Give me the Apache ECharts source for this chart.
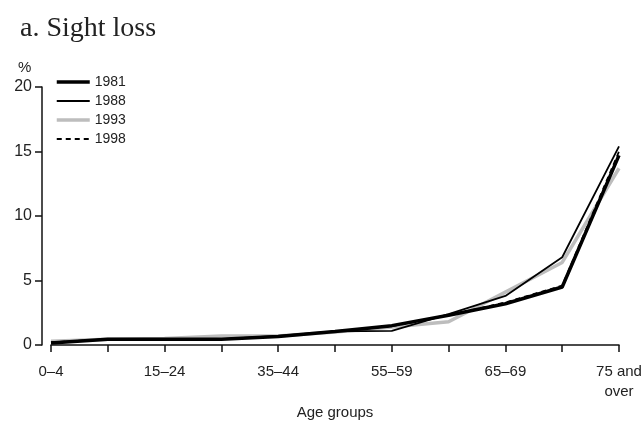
<!DOCTYPE html>
<html><head><meta charset="utf-8">
<script src="https://cdn.jsdelivr.net/npm/echarts@6/dist/echarts.min.js"></script>
<style>html,body{margin:0;padding:0;background:#fff}#c{width:644px;height:421px}</style>
</head><body><div id="c"></div>
<script>
const categories = ['0\u20134','5\u201314','15\u201324','25\u201334','35\u201344','45\u201354','55\u201359','60\u201364','65\u201369','70\u201374','75 and\nover'];
const s1981 = [0.15, 0.45, 0.45, 0.45, 0.65, 1.05, 1.5, 2.3, 3.2, 4.5, 14.7];
const s1988 = [0.2, 0.45, 0.45, 0.45, 0.7, 1.05, 1.1, 2.4, 3.8, 6.8, 15.4];
const s1993 = [0.3, 0.45, 0.5, 0.7, 0.7, 1.0, 1.4, 1.8, 4.1, 6.4, 13.7];
const s1998 = [0.2, 0.45, 0.45, 0.45, 0.65, 1.05, 1.45, 2.3, 3.3, 4.6, 15.0];
const yTicks = [0, 5, 10, 15, 20];
const FONT = "'Liberation Sans Narrow','Liberation Sans',Arial,sans-serif";
const chart = echarts.init(document.getElementById('c'));
chart.setOption({
  animation: false,
  backgroundColor: '#fff',
  textStyle: {fontFamily: FONT},
  graphic: [
    {type: 'text', left: 20, top: 15, style: {text: 'a. Sight loss', font: "28px 'Liberation Serif', serif", fill: '#222'}},
    {type: 'text', left: 18, top: 60, style: {text: '%', font: "15px " + FONT, fill: '#222'}}
  ],
  legend: {
    data: ['1981','1988','1993','1998'],
    orient: 'vertical', left: 50, top: 70,
    itemWidth: 33, itemHeight: 12, itemGap: 5,
    itemStyle: {opacity: 0},
    lineStyle: {width: 'inherit'},
    textStyle: {fontSize: 14, color: '#222', fontFamily: FONT}
  },
  grid: {left: 51, right: 25, top: 87, bottom: 76, containLabel: false, outerBoundsMode: 'none'},
  xAxis: {
    type: 'category', data: categories, boundaryGap: false,
    offset: 9,
    axisLine: {lineStyle: {color: '#111', width: 1.5}},
    axisTick: {show: true, length: 7, interval: 0, lineStyle: {color: '#111', width: 1.5}},
    axisLabel: {interval: 1, color: '#222', fontSize: 15, lineHeight: 20, margin: 8, fontFamily: FONT},
    name: 'Age groups', nameLocation: 'middle', nameGap: 51, nameMoveOverlap: false,
    nameTextStyle: {fontSize: 15, color: '#222', fontFamily: FONT}
  },
  yAxis: {
    type: 'value', min: 0, max: 20, interval: 5,
    offset: 9,
    axisLine: {show: true, lineStyle: {color: '#111', width: 1.5}},
    axisTick: {show: true, length: 7, lineStyle: {color: '#111', width: 1.5}},
    splitLine: {show: false},
    axisLabel: {color: '#222', fontSize: 16, margin: 10, fontFamily: FONT,
      formatter: v => yTicks.includes(v) ? String(v) : ''}
  },
  series: [
    {name: '1993', type: 'line', data: s1993, symbol: 'none', z: 1,
      lineStyle: {color: '#bdbdbd', width: 3.5}, itemStyle: {color: '#bdbdbd'}},
    {name: '1981', type: 'line', data: s1981, symbol: 'none', z: 2,
      lineStyle: {color: '#000', width: 3.5}, itemStyle: {color: '#000'}},
    {name: '1988', type: 'line', data: s1988, symbol: 'none', z: 3,
      lineStyle: {color: '#000', width: 1.8}, itemStyle: {color: '#000'}},
    {name: '1998', type: 'line', data: s1998, symbol: 'none', z: 4,
      lineStyle: {color: '#000', width: 1.8, type: [5, 4]}, itemStyle: {color: '#000'}}
  ]
});
</script></body></html>
